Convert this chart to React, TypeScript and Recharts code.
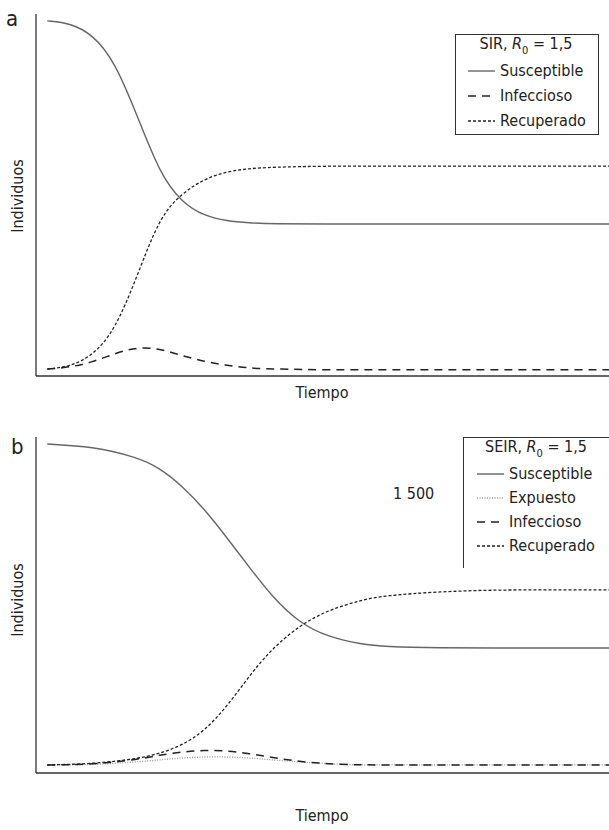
import React from 'react';
import { LineChart, Line, XAxis, YAxis } from 'recharts';

// time steps (arbitrary units)
const timeA = [0, 4, 8, 12, 16, 20, 24, 28, 32, 36, 40, 50, 60, 70, 80, 90, 100];
const sirSusceptible = [981, 975, 945, 870, 720, 560, 478, 442, 428, 423, 420, 420, 420, 420, 420, 420, 420];
const sirInfectious = [19, 24, 38, 62, 80, 76, 56, 40, 29, 22, 19, 17, 17, 17, 17, 17, 17];
const sirRecovered = [19, 26, 55, 125, 275, 440, 505, 545, 565, 573, 577, 580, 580, 580, 580, 580, 580];

const timeB = [0, 8, 16, 20, 24, 28, 32, 36, 40, 45, 50, 56, 60, 70, 80, 90, 100];
const seirSusceptible = [979, 972, 940, 908, 855, 785, 700, 612, 525, 445, 405, 383, 376, 372, 372, 372, 372];
const seirExposed = [24, 24, 33, 39, 45, 48, 48, 45, 39, 33, 27, 24, 24, 24, 24, 24, 24];
const seirInfectious = [24, 25, 40, 53, 63, 68, 66, 58, 46, 34, 27, 24, 24, 24, 24, 24, 24];
const seirRecovered = [24, 27, 42, 58, 82, 125, 198, 290, 370, 440, 485, 515, 528, 540, 545, 545, 545];

const FONT = '"DejaVu Sans Condensed", "Liberation Sans", Roboto, sans-serif';

const STYLES: Record<string, { stroke: string; dash?: string; width: number }> = {
  Susceptible: { stroke: '#666', width: 1.4 },
  Expuesto: { stroke: '#999', dash: '1 1.5', width: 1.3 },
  Infeccioso: { stroke: '#222', dash: '8 6', width: 1.5 },
  Recuperado: { stroke: '#222', dash: '3 2', width: 1.3 },
};

const tableA = timeA.map((t, i) => ({
  t,
  Susceptible: sirSusceptible[i],
  Infeccioso: sirInfectious[i],
  Recuperado: sirRecovered[i],
}));

const tableB = timeB.map((t, i) => ({
  t,
  Susceptible: seirSusceptible[i],
  Expuesto: seirExposed[i],
  Infeccioso: seirInfectious[i],
  Recuperado: seirRecovered[i],
}));

const text: React.CSSProperties = { position: 'absolute', fontFamily: FONT, fontSize: 16, color: '#222', whiteSpace: 'nowrap', lineHeight: 1 };

const Sample = ({ name }: { name: string }) => {
  const s = STYLES[name];
  return (
    <svg width={27} height={6} style={{ display: 'block' }}>
      <line x1={0} y1={3} x2={27} y2={3} stroke={s.stroke} strokeWidth={s.width} strokeDasharray={s.dash} />
    </svg>
  );
};

const R0 = ({ model }: { model: string }) => (
  <span>
    {model}, <i>R</i><sub style={{ fontSize: 11 }}>0</sub> = 1,5
  </span>
);

const Panel = ({ data, series, top, height, mTop, mBottom }: any) => (
  <div style={{ position: 'absolute', left: 0, top }}>
    <LineChart width={609} height={height} data={data} margin={{ top: mTop, right: 0, bottom: mBottom, left: 26 }}>
      <XAxis dataKey="t" type="number" domain={[-2, 100]} ticks={[]} tickLine={false} height={20} stroke="#333" strokeWidth={1.3} allowDataOverflow />
      <YAxis type="number" domain={[0, 1000]} ticks={[]} tickLine={false} width={10} stroke="#333" strokeWidth={1.3} allowDataOverflow />
      {series.map((k: string) => (
        <Line
          key={k}
          dataKey={k}
          type="basis"
          dot={false}
          stroke={STYLES[k].stroke}
          strokeWidth={STYLES[k].width}
          strokeDasharray={STYLES[k].dash}
          isAnimationActive={false}
        />
      ))}
    </LineChart>
  </div>
);

const App = () => {
  const seriesA = ['Susceptible', 'Infeccioso', 'Recuperado'];
  const seriesB = ['Susceptible', 'Expuesto', 'Infeccioso', 'Recuperado'];
  return (
    <div style={{ position: 'absolute', left: 0, top: 0, width: 609, height: 830, background: '#fff', overflow: 'hidden' }}>
      <Panel data={tableA} series={seriesA} top={0} height={420} mTop={14} mBottom={24} />
      <Panel data={tableB} series={seriesB} top={420} height={410} mTop={17} mBottom={37} />

      {/* panel letters */}
      <div style={{ ...text, fontSize: 22, left: 6, top: 8 }}>a</div>
      <div style={{ ...text, fontSize: 22, left: 11, top: 436 }}>b</div>

      {/* axis titles */}
      <div style={{ ...text, left: 18, top: 196, transform: 'translate(-50%, -50%) rotate(-90deg)' }}>Individuos</div>
      <div style={{ ...text, left: 18, top: 600, transform: 'translate(-50%, -50%) rotate(-90deg)' }}>Individuos</div>
      <div style={{ ...text, left: 322, top: 393, transform: 'translate(-50%, -50%)' }}>Tiempo</div>
      <div style={{ ...text, left: 322, top: 816, transform: 'translate(-50%, -50%)' }}>Tiempo</div>

      {/* legend a */}
      <div style={{ position: 'absolute', left: 455, top: 34, width: 142, height: 99, border: '1px solid #333' }} />
      <div style={{ ...text, left: 526, top: 46, transform: 'translate(-50%, -50%)' }}><R0 model="SIR" /></div>
      {seriesA.map((k, i) => (
        <div key={k} style={{ ...text, left: 468, top: 71 + i * 25, transform: 'translateY(-50%)', display: 'flex', alignItems: 'center', gap: 5 }}>
          <Sample name={k} />
          <span>{k}</span>
        </div>
      ))}

      {/* legend b */}
      <div style={{ position: 'absolute', left: 463, top: 437, width: 160, height: 130, borderLeft: '1px solid #333', borderTop: '1px solid #333' }} />
      <div style={{ ...text, left: 536, top: 449, transform: 'translate(-50%, -50%)' }}><R0 model="SEIR" /></div>
      {seriesB.map((k, i) => (
        <div key={k} style={{ ...text, left: 477, top: 474 + i * 24, transform: 'translateY(-50%)', display: 'flex', alignItems: 'center', gap: 5 }}>
          <Sample name={k} />
          <span>{k}</span>
        </div>
      ))}
      <div style={{ ...text, left: 393, top: 494, transform: 'translateY(-50%)' }}>1 500</div>
    </div>
  );
};

export default App;
